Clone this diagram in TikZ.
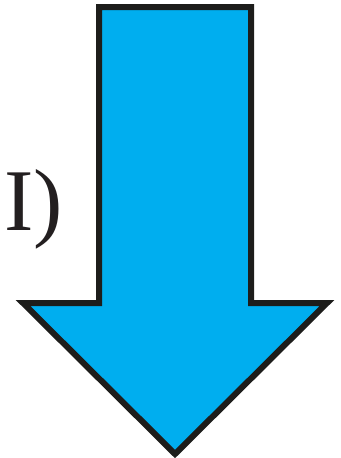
\documentclass[tikz,border=0pt]{standalone}
\usepackage{fontspec}
\setmainfont{Liberation Serif}
\definecolor{arrowblue}{HTML}{00AEEF}
\definecolor{outline}{HTML}{1D1D1B}
\definecolor{inkgray}{HTML}{231F20}

\begin{document}
\begin{tikzpicture}[
    x=0.75pt, y=-0.75pt,
    arrowbody/.style={
        draw=outline,
        fill=arrowblue,
        line width=4.5pt,
        line join=miter
    },
    captiontext/.style={
        inner sep=0pt,
        text=inkgray,
        font=\fontsize{66}{70}\selectfont
    }
]

% ------------------------
% Frame (cuts the text at the left)
% ------------------------
\clip (0,0) rectangle (341,458);

% ------------------------
% Text (left)
% ------------------------
\node[captiontext, anchor=base east] (caption) at (63,230) {L\kern6pt I)};

% ------------------------
% Down arrow
% ------------------------
\draw[arrowbody]
    (99,7) -- (251,7) -- (251,303) -- (327,303)
    -- (175,454) -- (23,303) -- (99,303) -- cycle;

\end{tikzpicture}
\end{document}
